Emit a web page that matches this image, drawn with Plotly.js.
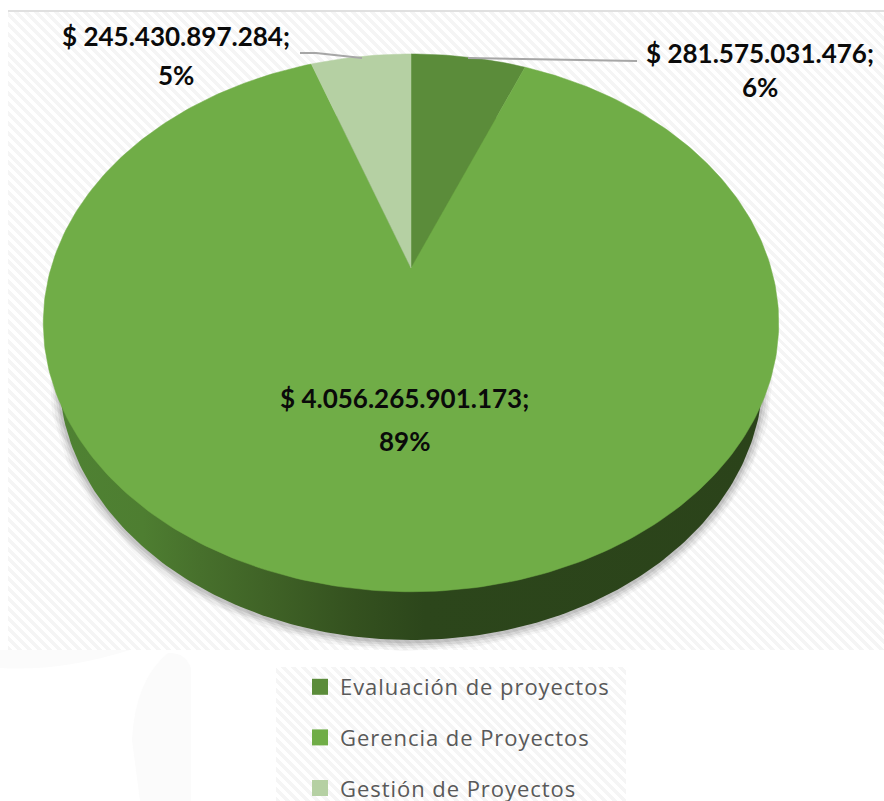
<!DOCTYPE html>
<html>
<head>
<meta charset="utf-8">
<script src="https://cdn.plot.ly/plotly-3.0.1.min.js"></script>
<style>
html,body{margin:0;padding:0;background:#fff;overflow:hidden;}
#wrap{position:relative;width:884px;height:801px;overflow:hidden;}
.hatch{position:absolute;background:repeating-linear-gradient(45deg,#f5f5f5 0,#f5f5f5 3.5px,#fff 3.5px,#fff 7px);}
#topline{position:absolute;left:8px;top:10px;right:0;height:2px;background:#e0e0e0;}
#chart{position:absolute;left:0;top:0;width:884px;height:801px;}
.legendtext{letter-spacing:0.95px;}
</style>
</head>
<body>
<div id="wrap">
  <div class="hatch" style="left:8px;top:12px;width:876px;height:638px"></div>
  <div class="hatch" style="left:276px;top:667px;width:350px;height:134px"></div>
  <div id="topline"></div>
  <div id="chart"></div>
</div>
<script>
// ---- data ----
var categories = ['Evaluación de proyectos', 'Gerencia de Proyectos', 'Gestión de Proyectos'];
var values = [281575031476, 4056265901173, 245430897284];
var colors = ['#5b8c3a', '#70ad47', '#b5d0a3'];
var valueLabels = ['$ 281.575.031.476;', '$ 4.056.265.901.173;', '$ 245.430.897.284;'];
var percentLabels = ['6%', '89%', '5%'];

// ---- tilted-disc projection (perspective view of a unit circle) ----
var apex = {x: 411, y: 268}, A = 360, B = 257.7, K = 0.204;
function project(theta) {
  var X = Math.sin(theta), Y = Math.cos(theta), w = 1 + K * Y;
  return {x: apex.x + A * X / w, y: apex.y - B * Y / w};
}
var total = values.reduce(function (a, b) { return a + b; }, 0);
var traces = [];

// soft shadow and side wall of the disc
var floor = {x: 411, y: 375, rx: 352, ry: 265};
var fx = [], fy = [];
for (var i = 0; i <= 360; i++) {
  var t = i * Math.PI / 180;
  fx.push(floor.x + floor.rx * Math.cos(t));
  fy.push(floor.y + floor.ry * Math.sin(t));
}
[[20, 0.035], [15, 0.05], [10, 0.07], [5, 0.09]].forEach(function (s) {
  traces.push({type: 'scatter', mode: 'lines', x: fx, y: fy.map(function (v) { return v + 1; }),
    line: {color: 'rgba(0,0,0,' + s[1] + ')', width: s[0]}, showlegend: false, hoverinfo: 'skip'});
});
traces.push({type: 'scatter', mode: 'lines', x: fx, y: fy, fill: 'toself',
  line: {width: 0, color: 'rgba(0,0,0,0)'}, showlegend: false, hoverinfo: 'skip',
  fillgradient: {type: 'horizontal', colorscale: [
    [0, '#4f8233'], [0.12, '#4e7e31'], [0.2, '#47702c'], [0.3, '#3f6226'],
    [0.42, '#34511f'], [0.52, '#2c461b'], [1, '#2b431a']]}});

// top face wedges, clockwise from twelve o'clock
var start = 0;
values.forEach(function (v, k) {
  var sweep = v / total * 2 * Math.PI, xs = [apex.x], ys = [apex.y];
  var n = Math.max(8, Math.round(sweep * 180 / Math.PI));
  for (var j = 0; j <= n; j++) {
    var p = project(start + sweep * j / n);
    xs.push(p.x); ys.push(p.y);
  }
  xs.push(apex.x); ys.push(apex.y);
  traces.push({type: 'scatter', mode: 'lines', x: xs, y: ys, fill: 'toself', fillcolor: colors[k],
    line: {color: colors[k], width: 0.5}, name: categories[k], showlegend: false,
    text: valueLabels[k] + ' ' + percentLabels[k], hoverinfo: 'text', hoveron: 'fills'});
  start += sweep;
});

// legend entries
categories.forEach(function (c, k) {
  traces.push({type: 'scatter', mode: 'markers', x: [null], y: [null], name: c, legendgroup: c,
    marker: {symbol: 'square', size: 16, color: colors[k]}, showlegend: true});
});

function label(text, x, y) {
  return {text: '<b>' + text + '</b>', x: x, y: y, xref: 'x', yref: 'y', xanchor: 'center', yanchor: 'middle',
    showarrow: false, font: {family: 'Lato, "Open Sans", sans-serif', size: 26, color: '#0a0a0a'}};
}
var annotations = [
  label(valueLabels[2], 176, 36), label(percentLabels[2], 176, 75),
  label(valueLabels[0], 760, 53), label(percentLabels[0], 760, 87),
  label(valueLabels[1], 404, 398), label(percentLabels[1], 404, 441)
];

var layout = {
  width: 884, height: 801, margin: {l: 0, r: 0, t: 0, b: 0, autoexpand: false},
  paper_bgcolor: 'rgba(0,0,0,0)', plot_bgcolor: 'rgba(0,0,0,0)',
  xaxis: {range: [0, 884], visible: false, fixedrange: true},
  yaxis: {range: [801, 0], visible: false, fixedrange: true},
  legend: {x: 300 / 884, y: 1 - 666 / 801, xanchor: 'left', yanchor: 'top',
    tracegroupgap: 19, bgcolor: 'rgba(0,0,0,0)', itemclick: false, itemdoubleclick: false,
    font: {family: '"Open Sans", sans-serif', size: 22, color: '#595959'}},
  annotations: annotations,
  shapes: [
    {type: 'path', layer: 'above', xref: 'x', yref: 'y', path: 'M300,53 L316,53 L362,58', line: {color: '#a6a6a6', width: 2}},
    {type: 'path', layer: 'above', xref: 'x', yref: 'y', path: 'M468,58 L637,61', line: {color: '#a6a6a6', width: 2}},
    {type: 'path', layer: 'below', xref: 'x', yref: 'y', path: 'M0,650 L0,668 Q60,672 130,650 Z', fillcolor: '#fbfbfb', line: {width: 0}},
    {type: 'path', layer: 'below', xref: 'x', yref: 'y', path: 'M191,801 L191,668 Q185,652 168,653 Q135,680 132,740 L140,801 Z', fillcolor: '#fbfbfb', line: {width: 0}}
  ]
};
Plotly.newPlot('chart', traces, layout, {displayModeBar: false, responsive: false});
</script>
</body>
</html>
